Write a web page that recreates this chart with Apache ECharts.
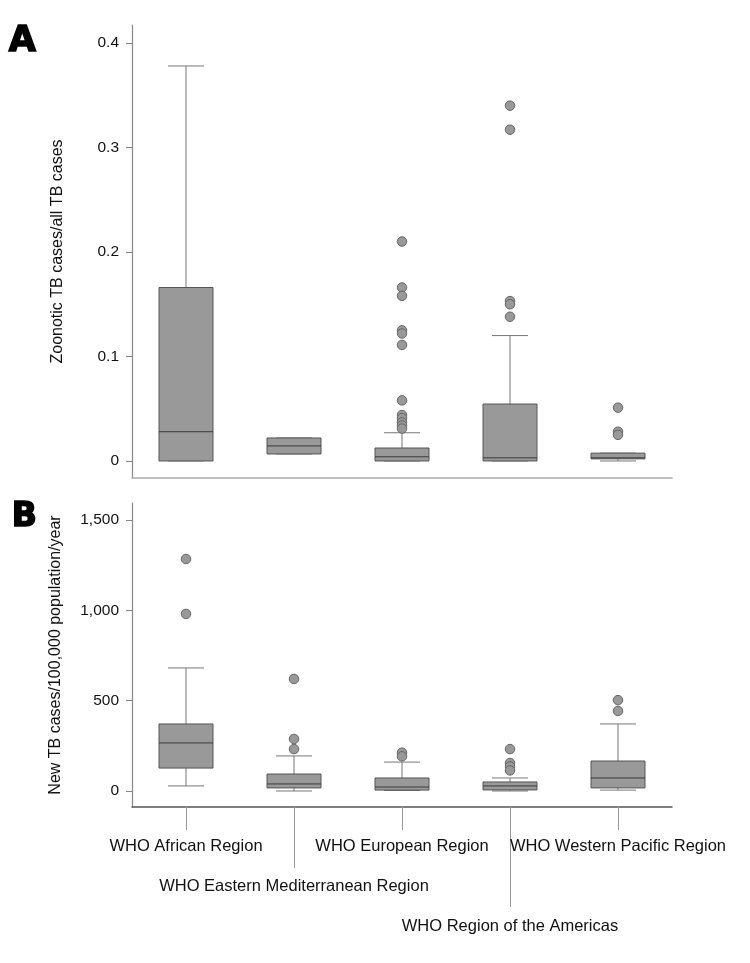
<!DOCTYPE html>
<html>
<head>
<meta charset="utf-8">
<script src="https://cdn.jsdelivr.net/npm/echarts@6/dist/echarts.min.js"></script>
<style>
html,body{margin:0;padding:0;background:#fff;}
#chart{width:750px;height:963px;}
</style>
</head>
<body>
<div id="chart"></div>
<script>
// ---------- data ----------
const categories = ['WHO African Region', 'WHO Eastern Mediterranean Region', 'WHO European Region', 'WHO Region of the Americas', 'WHO Western Pacific Region'];

// Panel A: zoonotic TB cases / all TB cases  [min, Q1, median, Q3, max]
const boxA_african  = [0, 0, 0.028, 0.166, 0.378];
const boxA_eastMed  = [0.0067, 0.0067, 0.0144, 0.022, 0.022];
const boxA_european = [0, 0, 0.004, 0.0124, 0.027];
const boxA_americas = [0, 0, 0.003, 0.0545, 0.12];
const boxA_wPacific = [0, 0.002, 0.003, 0.0075, 0.0075];

const outA_african  = [];
const outA_eastMed  = [];
const outA_european = [0.21, 0.166, 0.158, 0.125, 0.122, 0.111, 0.058, 0.044, 0.041, 0.037, 0.034, 0.031];
const outA_americas = [0.34, 0.317, 0.153, 0.150, 0.138];
const outA_wPacific = [0.051, 0.028, 0.025];

// Panel B: new TB cases / 100,000 population / year  [min, Q1, median, Q3, max]
const boxB_african  = [28, 127, 266, 371, 681];
const boxB_eastMed  = [0, 17, 39, 94, 194];
const boxB_european = [3, 5, 22, 72, 160];
const boxB_americas = [0, 6, 28, 50, 72];
const boxB_wPacific = [5, 17, 72, 166, 371];

const outB_african  = [1284, 980];
const outB_eastMed  = [620, 288, 232];
const outB_european = [212, 192];
const outB_americas = [232, 155, 136, 114];
const outB_wPacific = [503, 443];

const ticksA = [0, 0.1, 0.2, 0.3, 0.4];
const ticksB = [0, 500, 1000, 1500];

const nameA = 'Zoonotic TB cases/all TB cases';
const nameB = 'New TB cases/100,000 population/year';

// ---------- build ----------
const boxesA = [boxA_african, boxA_eastMed, boxA_european, boxA_americas, boxA_wPacific];
const boxesB = [boxB_african, boxB_eastMed, boxB_european, boxB_americas, boxB_wPacific];
const outsA = [outA_african, outA_eastMed, outA_european, outA_americas, outA_wPacific];
const outsB = [outB_african, outB_eastMed, outB_european, outB_americas, outB_wPacific];

const boxData = boxes => boxes.map((b, i) => [i].concat(b));
const outData = outs => outs.flatMap((arr, i) => arr.map(v => [i, v]));

const FONT = "'Liberation Sans', Arial, sans-serif";
const TXT = '#111111';

function renderBox(params, api) {
  const c = api.value(0);
  const v = [1, 2, 3, 4, 5].map(i => api.value(i));
  const pt = val => api.coord([c, val]);
  const band = api.size([1, 0])[0];
  const bw = band * 0.5, cw = bw * 0.667;
  const x = pt(v[0])[0];
  const yMin = pt(v[0])[1], yQ1 = pt(v[1])[1], yMed = pt(v[2])[1], yQ3 = pt(v[3])[1], yMax = pt(v[4])[1];
  const wStyle = { stroke: '#777', lineWidth: 1, fill: null };
  return {
    type: 'group',
    children: [
      { type: 'line', shape: { x1: x, y1: yQ3, x2: x, y2: yMax }, style: wStyle },
      { type: 'line', shape: { x1: x - cw / 2, y1: yMax, x2: x + cw / 2, y2: yMax }, style: wStyle },
      { type: 'line', shape: { x1: x, y1: yQ1, x2: x, y2: yMin }, style: wStyle },
      { type: 'line', shape: { x1: x - cw / 2, y1: yMin, x2: x + cw / 2, y2: yMin }, style: wStyle },
      { type: 'rect', shape: { x: x - bw / 2, y: yQ3, width: bw, height: Math.max(yQ1 - yQ3, 0.5) },
        style: { fill: '#999999', stroke: '#555555', lineWidth: 1 } },
      { type: 'line', shape: { x1: x - bw / 2, y1: yMed, x2: x + bw / 2, y2: yMed },
        style: { stroke: '#3a3a3a', lineWidth: 1 } }
    ]
  };
}

const chart = echarts.init(document.getElementById('chart'), null, { renderer: 'canvas' });

const option = {
  backgroundColor: '#fff',
  animation: false,
  textStyle: { fontFamily: FONT, color: TXT },
  graphic: [
    { type: 'text', left: 8, top: 24, style: { text: 'A', font: "900 35px 'DejaVu Sans', sans-serif", fill: '#000', stroke: '#000', lineWidth: 1.6 } },
    { type: 'text', left: 11, top: 500, style: { text: 'B', font: "900 33px 'DejaVu Sans', sans-serif", fill: '#000', stroke: '#000', lineWidth: 1.6 } }
  ],
  grid: [
    { left: 132, right: 78, top: 25, height: 453 },
    { left: 132, right: 78, top: 503, height: 304 }
  ],
  xAxis: [
    { gridIndex: 0, type: 'category', data: categories, position: 'bottom',
      axisLine: { show: true, onZero: false, lineStyle: { color: '#aaaaaa', width: 1.5 } },
      axisTick: { show: false }, axisLabel: { show: false }, splitLine: { show: false } },
    { gridIndex: 1, type: 'category', data: categories, position: 'bottom', offset: 0,
      axisLine: { show: true, onZero: false, lineStyle: { color: '#555555', width: 1.5 } },
      axisTick: { show: true, alignWithLabel: true, length: 23, interval: (i) => i % 2 === 0, lineStyle: { color: '#999' } },
      axisLabel: { show: true, interval: (i) => i % 2 === 0, margin: 31, fontSize: 16.5, color: TXT, fontFamily: FONT },
      splitLine: { show: false } },
    { gridIndex: 1, type: 'category', data: categories, position: 'bottom', offset: 0,
      axisLine: { show: false, onZero: false },
      axisTick: { show: true, alignWithLabel: true, length: 61, interval: (i) => i === 1, lineStyle: { color: '#999' } },
      axisLabel: { show: true, interval: (i) => i === 1, margin: 71, fontSize: 16.5, color: TXT, fontFamily: FONT },
      splitLine: { show: false } },
    { gridIndex: 1, type: 'category', data: categories, position: 'bottom', offset: 0,
      axisLine: { show: false, onZero: false },
      axisTick: { show: true, alignWithLabel: true, length: 100, interval: (i) => i === 3, lineStyle: { color: '#999' } },
      axisLabel: { show: true, interval: (i) => i === 3, margin: 111, fontSize: 16.5, color: TXT, fontFamily: FONT },
      splitLine: { show: false } }
  ],
  yAxis: [
    { gridIndex: 0, type: 'value', min: -0.0163, max: 0.4172,
      name: nameA, nameLocation: 'middle', nameGap: 66, nameRotate: 90,
      nameTextStyle: { fontSize: 16, color: TXT, fontFamily: FONT },
      axisLine: { show: true, lineStyle: { color: '#888', width: 1.2 } },
      axisTick: { show: true, length: 6, customValues: ticksA, lineStyle: { color: '#888' } },
      axisLabel: { show: true, customValues: ticksA, margin: 13, fontSize: 15.5, color: TXT, fontFamily: FONT,
        formatter: v => (v === 0 ? '0' : v.toFixed(1)) },
      splitLine: { show: false } },
    { gridIndex: 1, type: 'value', min: -88.6, max: 1594,
      name: nameB, nameLocation: 'middle', nameGap: 68, nameRotate: 90,
      nameTextStyle: { fontSize: 16, color: TXT, fontFamily: FONT },
      axisLine: { show: true, lineStyle: { color: '#888', width: 1.2 } },
      axisTick: { show: true, length: 6, customValues: ticksB, lineStyle: { color: '#888' } },
      axisLabel: { show: true, customValues: ticksB, margin: 13, fontSize: 15.5, color: TXT, fontFamily: FONT,
        formatter: v => Number(v).toLocaleString('en-US') },
      splitLine: { show: false } }
  ],
  series: [
    { type: 'custom', name: 'A boxes', xAxisIndex: 0, yAxisIndex: 0, renderItem: renderBox,
      encode: { x: 0, y: [1, 2, 3, 4, 5] }, data: boxData(boxesA), clip: false },
    { type: 'scatter', name: 'A outliers', xAxisIndex: 0, yAxisIndex: 0, symbol: 'circle', symbolSize: 9.5,
      itemStyle: { color: '#999999', borderColor: '#666666', borderWidth: 1, opacity: 1 }, data: outData(outsA) },
    { type: 'custom', name: 'B boxes', xAxisIndex: 1, yAxisIndex: 1, renderItem: renderBox,
      encode: { x: 0, y: [1, 2, 3, 4, 5] }, data: boxData(boxesB), clip: false },
    { type: 'scatter', name: 'B outliers', xAxisIndex: 1, yAxisIndex: 1, symbol: 'circle', symbolSize: 9.5,
      itemStyle: { color: '#999999', borderColor: '#666666', borderWidth: 1, opacity: 1 }, data: outData(outsB) }
  ]
};

chart.setOption(option);
</script>
</body>
</html>
